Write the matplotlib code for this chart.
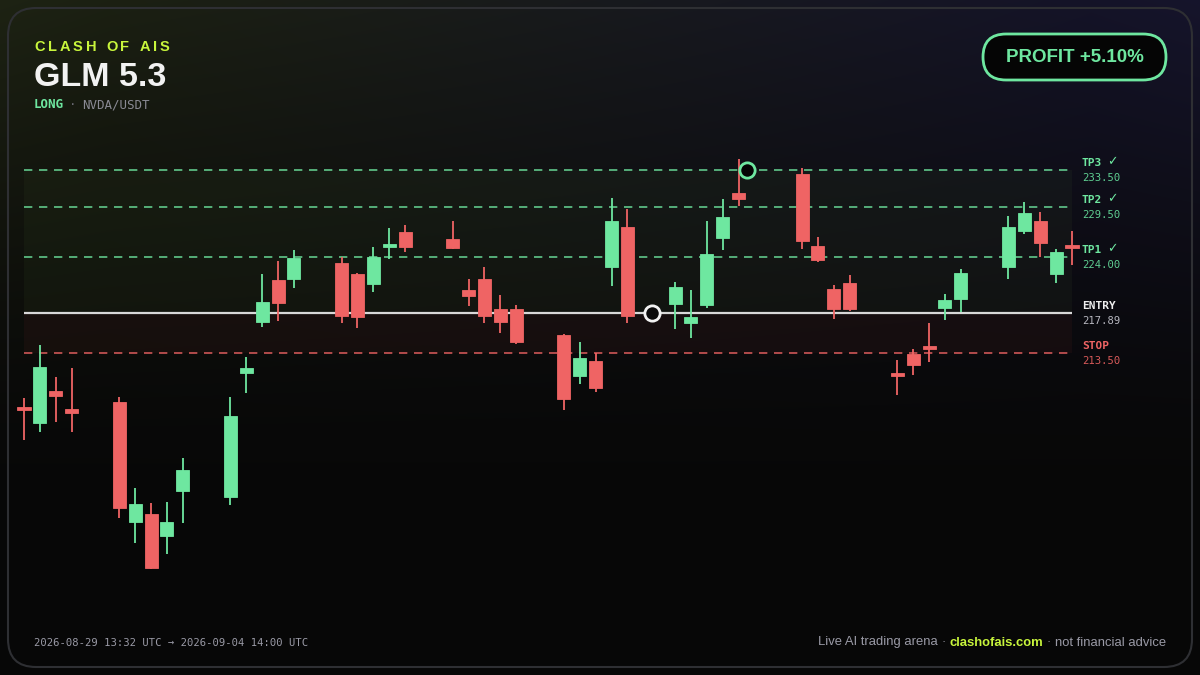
import numpy as np
import matplotlib
matplotlib.use("Agg")
from matplotlib import pyplot as plt
from matplotlib.patches import FancyBboxPatch

# ---- data -------------------------------------------------------------
candle_idx = [0, 1, 2, 3, 6, 7, 8, 9, 10, 13, 14, 15, 16, 17,
              20, 21, 22, 23, 24, 27, 28, 29, 30, 31, 34, 35, 36, 37, 38,
              41, 42, 43, 44, 45, 49, 50, 51, 52, 55, 56, 57, 58, 59,
              62, 63, 64, 65, 66]
opens = [207.38, 205.80, 209.38, 207.38, 208.18, 195.00, 195.87, 193.50, 198.45,
         197.73, 211.35, 216.86, 221.45, 221.55,
         223.30, 222.10, 221.04, 225.14, 226.69, 225.93, 220.39, 221.59, 218.28, 218.34,
         215.47, 211.02, 212.59, 222.87, 227.27,
         218.86, 216.75, 218.75, 226.04, 231.02, 233.06, 225.23, 220.46, 221.18,
         211.15, 213.36, 214.07, 218.39, 219.37,
         222.93, 226.83, 227.96, 222.10, 225.08]
highs = [208.61, 214.37, 210.84, 211.89, 208.72, 198.71, 197.07, 197.25, 201.99,
         208.72, 213.03, 222.13, 223.55, 224.76,
         224.02, 222.20, 225.05, 227.16, 227.46, 227.89, 221.59, 222.87, 219.84, 218.71,
         215.58, 214.67, 213.47, 230.41, 229.20,
         221.26, 220.39, 227.93, 230.33, 234.70, 233.69, 226.14, 220.96, 221.99,
         212.73, 213.94, 216.75, 219.92, 222.68,
         228.47, 229.97, 228.91, 224.90, 226.87]
lows = [203.99, 204.90, 205.99, 204.84, 195.43, 192.77, 189.95, 191.53, 194.95,
        196.89, 209.10, 216.37, 217.00, 220.64,
        216.75, 216.20, 220.20, 223.74, 224.50, 224.87, 218.67, 216.75, 215.65, 214.48,
        207.27, 210.11, 209.27, 220.86, 216.81,
        216.16, 215.11, 218.45, 224.76, 229.60, 224.83, 223.45, 217.18, 218.12,
        208.91, 211.13, 212.48, 217.11, 217.95,
        221.55, 226.47, 224.02, 221.12, 223.15]
closes = [207.27, 212.00, 208.80, 206.91, 196.53, 197.00, 190.04, 195.00, 200.71,
          206.61, 211.83, 219.11, 219.00, 223.92,
          217.54, 217.47, 223.99, 225.20, 225.12, 225.01, 219.76, 217.58, 216.86, 214.73,
          208.51, 212.99, 209.67, 227.93, 217.58,
          220.75, 217.40, 224.35, 228.40, 230.36, 225.74, 223.66, 218.34, 218.28,
          211.04, 212.16, 213.96, 219.26, 222.21,
          227.30, 228.83, 225.49, 224.50, 225.00]

level_names = ["TP3", "TP2", "TP1", "ENTRY", "STOP"]
level_hit = [True, True, True, False, False]
level_prices = [233.50, 229.50, 224.00, 217.89, 213.50]
entry_price = 217.89
stop_price = 213.50
tp3_price = 233.50
entry_time = 39.55
tp3_hit_time = 45.55

title = "GLM 5.3"
brand = "CLASH OF AIS"
side = "LONG"
pair = "NVDA/USDT"
profit_text = "PROFIT +5.10%"
time_range = "2026-08-29 13:32 UTC \u2192 2026-09-04 14:00 UTC"

# ---- style --------------------------------------------------------------
W, H = 1200, 675
GREEN = "#6ee7a0"
RED = "#ef6464"
LIME = "#c8f53c"
GREY = "#9a9aa6"
MONO = ["DejaVu Sans Mono", "DejaVu Sans"]
SANS = ["Liberation Sans", "DejaVu Sans"]


def fx(x):
    return x / W


def fy(y):
    return 1 - y / H


fig = plt.figure(figsize=(W / 100, H / 100), dpi=100)
fig.patch.set_facecolor("#080808")

# background gradient
bg = fig.add_axes([0, 0, 1, 1], zorder=-10)
yy, xx = np.mgrid[0:H, 0:W]
xn = xx / W
v = np.clip(1 - yy / 470.0, 0, 1) ** 1.3
wl = np.clip(1 - xn * 1.1, 0, 1)
wr = np.clip(xn * 1.1 - 0.1, 0, 1)
base = np.array([0.031, 0.031, 0.031])
olive = np.array([0.085, 0.105, 0.045])
navy = np.array([0.055, 0.05, 0.14])
img = base + v[..., None] * (wl[..., None] * olive + wr[..., None] * navy)
bg.imshow(np.clip(img, 0, 1), extent=[0, W, H, 0], aspect="auto")
bg.set_xlim(0, W)
bg.set_ylim(H, 0)
bg.axis("off")

# card border
card = FancyBboxPatch((8, 8), W - 16, H - 16, boxstyle="round,pad=0,rounding_size=28",
                      fc="none", ec="#2e2f33", lw=1.5, transform=bg.transData)
bg.add_patch(card)

# ---- chart ------------------------------------------------------------
ax = fig.add_axes([fx(14), fy(600), (1082 - 14) / W, 460 / H])
ax.set_xlim(-0.63, 66.63)
ax.set_ylim(186.51, 236.78)
ax.axis("off")
ax.patch.set_alpha(0)

x0, x1 = 0, 66
ax.fill_between([x0, x1], entry_price, tp3_price, color="#5a7a3a", alpha=0.08, lw=0)
ax.fill_between([x0, x1], stop_price, entry_price, color="#7a2a2a", alpha=0.10, lw=0)

for name, p in zip(level_names, level_prices):
    if name.startswith("TP"):
        ax.hlines(p, x0, x1, colors=GREEN, lw=1.2, linestyles=(0, (5, 4)), alpha=0.85, zorder=2)
    elif name == "STOP":
        ax.hlines(p, x0, x1, colors=RED, lw=1.2, linestyles=(0, (5, 4)), alpha=0.85, zorder=2)
    else:
        ax.hlines(p, x0, x1, colors="#d8d8d8", lw=1.6, zorder=2)

for i, o, h, l, c in zip(candle_idx, opens, highs, lows, closes):
    col = GREEN if c >= o else RED
    lo, hi = min(o, c), max(o, c)
    hgt = max(hi - lo, 0.3)
    ax.vlines(i, l, h, colors=col, lw=1.3, zorder=3)
    ax.bar(i, hgt, bottom=lo, width=0.82, color=col, edgecolor=col, lw=0.6, zorder=4)

ax.plot([entry_time], [entry_price], "o", ms=11, mfc="#0b0b0b", mec="#f2f2f2", mew=2, zorder=6)
ax.plot([tp3_hit_time], [tp3_price], "o", ms=11, mfc="#050505", mec=GREEN, mew=2, zorder=6)

# level labels on the right
label_cols = {"TP": (GREEN, "#5fcf92"), "ENTRY": ("#eeeeee", "#b8b8c0"), "STOP": (RED, "#d95a5a")}
for name, hit, p in zip(level_names, level_hit, level_prices):
    key = "TP" if name.startswith("TP") else name
    c1, c2 = label_cols[key]
    ax.annotate(name, xy=(fx(1082), p), xycoords=(fig.transFigure, ax.transData),
                xytext=(0, 7), textcoords="offset pixels", ha="left", va="center",
                color=c1, fontsize=8, fontweight="bold", family=MONO)
    if hit:
        ax.annotate("\u2713", xy=(fx(1107), p), xycoords=(fig.transFigure, ax.transData),
                    xytext=(0, 8), textcoords="offset pixels", ha="left", va="center",
                    color=c1, fontsize=9, family=["DejaVu Sans"])
    ax.annotate(f"{p:.2f}", xy=(fx(1082), p), xycoords=(fig.transFigure, ax.transData),
                xytext=(0, -8), textcoords="offset pixels", ha="left", va="center",
                color=c2, fontsize=7.6, family=MONO)

# ---- header -----------------------------------------------------------
renderer = fig.canvas.get_renderer()

x = 34.0
track = 2.9
for ch in brand:
    if ch == " ":
        x += 10.5 * 0.278 * 100 / 72 + track
        continue
    t = fig.text(fx(x), fy(47), ch, ha="left", va="center", color=LIME,
                 fontsize=10.5, fontweight="bold", family=SANS)
    x += t.get_window_extent(renderer).width + track

fig.text(fx(33.5), fy(77), title, ha="left", va="center", color="#f2f2f2",
         fontsize=24.5, fontweight="bold", family=SANS)
fig.text(fx(34), fy(104.5), side, ha="left", va="center", color=GREEN,
         fontsize=9, fontweight="bold", family=MONO)
fig.text(fx(73), fy(104.5), "\u00b7", ha="center", va="center", color="#6a6a74",
         fontsize=9, family=MONO)
fig.text(fx(82.5), fy(104.5), pair, ha="left", va="center", color="#8a8a94",
         fontsize=9, family=MONO)

badge = FancyBboxPatch((983, 34), 183, 46, boxstyle="round,pad=0,rounding_size=23",
                       fc="#050505", ec=GREEN, lw=2, transform=bg.transData, zorder=5)
bg.add_patch(badge)
fig.text(fx(1074.5), fy(57.5), profit_text, ha="center", va="center", color=GREEN,
         fontsize=13.5, fontweight="bold", family=SANS)

# ---- footer -----------------------------------------------------------
fig.text(fx(34), fy(642.5), time_range, ha="left", va="center", color=GREY,
         fontsize=7.6, family=MONO)

pieces = [("not financial advice", GREY, "normal"), ("\u00b7", GREY, "normal"),
          ("clashofais.com", LIME, "bold"), ("\u00b7", GREY, "normal"),
          ("Live AI trading arena", GREY, "normal")]
x = 1166.0
fs = 9.4
gap = fs * 0.278 * 100 / 72
for s, col, wt in pieces:
    t = fig.text(fx(x), fy(642.5), s, ha="right", va="center", color=col,
                 fontsize=fs, fontweight=wt, family=SANS)
    x -= t.get_window_extent(renderer).width + gap

fig.savefig("out.png", dpi=100, facecolor=fig.get_facecolor())
